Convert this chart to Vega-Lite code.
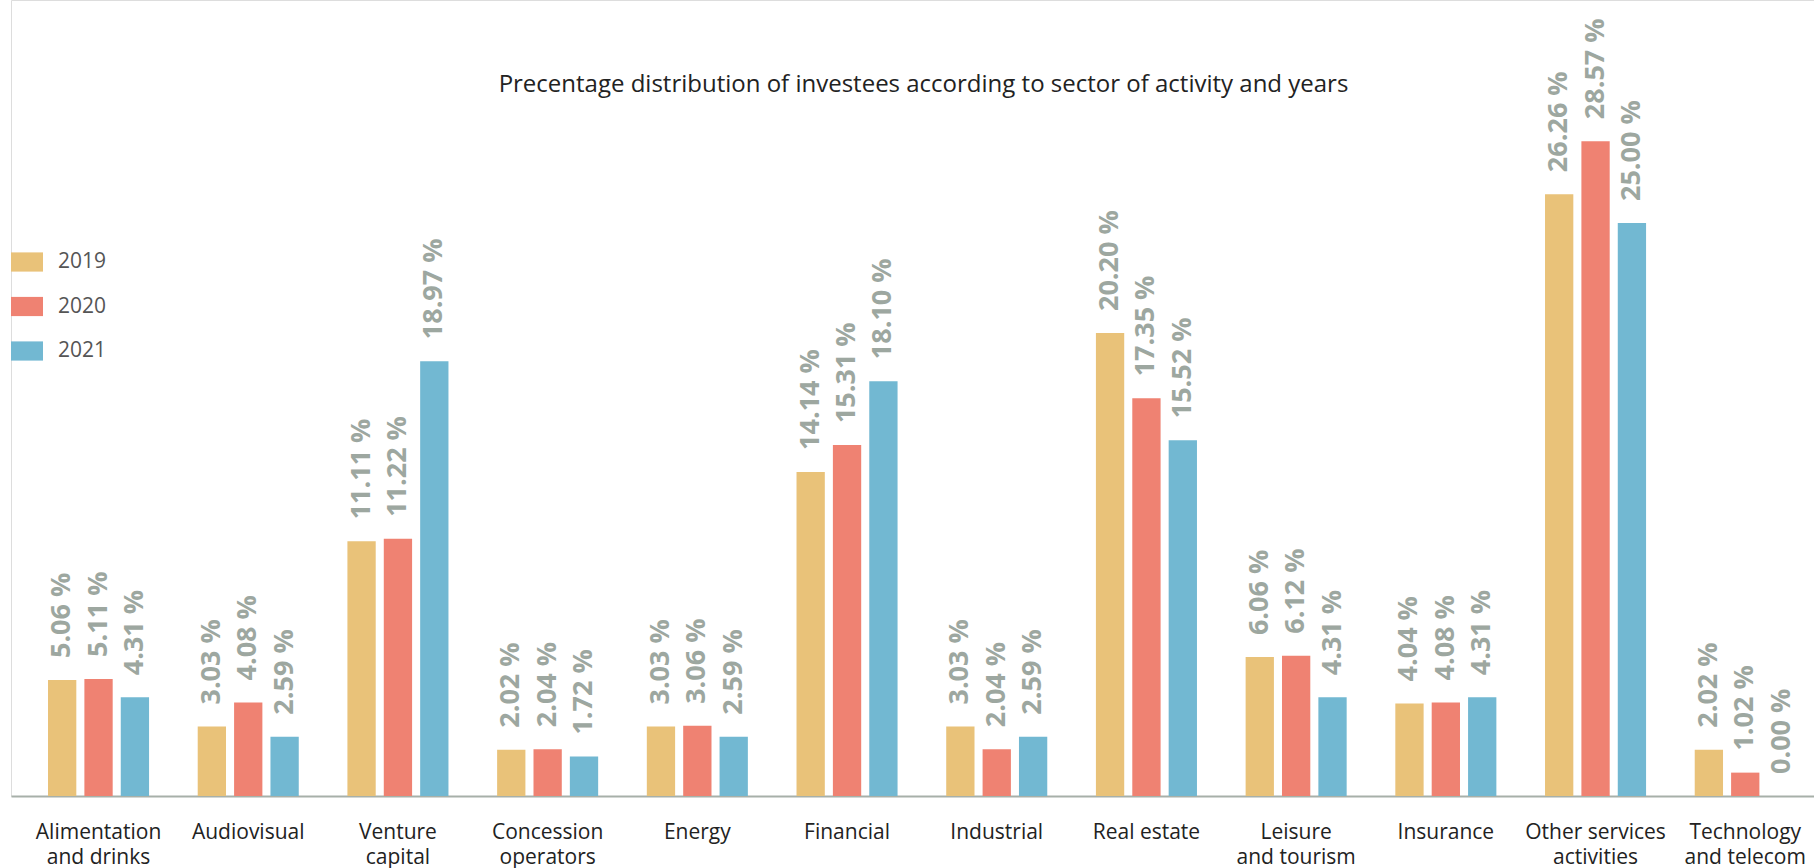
{
  "$schema": "https://vega.github.io/schema/vega-lite/v6.json",
  "width": 1803,
  "height": 796,
  "autosize": {"type": "none"},
  "padding": {"left": 11, "top": 0, "right": 0, "bottom": 72},
  "background": "white",
  "title": {
    "text": "Precentage distribution of investees according to sector of activity and years",
    "font": "Open Sans",
    "fontSize": 24,
    "fontWeight": "normal",
    "color": "#222222",
    "anchor": "middle",
    "frame": "group",
    "offset": -116,
    "dx": 11,
    "baseline": "alphabetic"
  },
  "data": {
    "values": [
      {"sector": "Alimentation|and drinks", "year": "2019", "value": 5.06},
      {"sector": "Alimentation|and drinks", "year": "2020", "value": 5.11},
      {"sector": "Alimentation|and drinks", "year": "2021", "value": 4.31},
      {"sector": "Audiovisual", "year": "2019", "value": 3.03},
      {"sector": "Audiovisual", "year": "2020", "value": 4.08},
      {"sector": "Audiovisual", "year": "2021", "value": 2.59},
      {"sector": "Venture|capital", "year": "2019", "value": 11.11},
      {"sector": "Venture|capital", "year": "2020", "value": 11.22},
      {"sector": "Venture|capital", "year": "2021", "value": 18.97},
      {"sector": "Concession|operators", "year": "2019", "value": 2.02},
      {"sector": "Concession|operators", "year": "2020", "value": 2.04},
      {"sector": "Concession|operators", "year": "2021", "value": 1.72},
      {"sector": "Energy", "year": "2019", "value": 3.03},
      {"sector": "Energy", "year": "2020", "value": 3.06},
      {"sector": "Energy", "year": "2021", "value": 2.59},
      {"sector": "Financial", "year": "2019", "value": 14.14},
      {"sector": "Financial", "year": "2020", "value": 15.31},
      {"sector": "Financial", "year": "2021", "value": 18.10},
      {"sector": "Industrial", "year": "2019", "value": 3.03},
      {"sector": "Industrial", "year": "2020", "value": 2.04},
      {"sector": "Industrial", "year": "2021", "value": 2.59},
      {"sector": "Real estate", "year": "2019", "value": 20.20},
      {"sector": "Real estate", "year": "2020", "value": 17.35},
      {"sector": "Real estate", "year": "2021", "value": 15.52},
      {"sector": "Leisure|and tourism", "year": "2019", "value": 6.06},
      {"sector": "Leisure|and tourism", "year": "2020", "value": 6.12},
      {"sector": "Leisure|and tourism", "year": "2021", "value": 4.31},
      {"sector": "Insurance", "year": "2019", "value": 4.04},
      {"sector": "Insurance", "year": "2020", "value": 4.08},
      {"sector": "Insurance", "year": "2021", "value": 4.31},
      {"sector": "Other services|activities", "year": "2019", "value": 26.26},
      {"sector": "Other services|activities", "year": "2020", "value": 28.57},
      {"sector": "Other services|activities", "year": "2021", "value": 25.00},
      {"sector": "Technology|and telecom", "year": "2019", "value": 2.02},
      {"sector": "Technology|and telecom", "year": "2020", "value": 1.02},
      {"sector": "Technology|and telecom", "year": "2021", "value": 0.00}
    ]
  },
  "transform": [{"calculate": "format(datum.value, '.2f') + ' %'", "as": "label"}],
  "encoding": {
    "x": {
      "field": "sector",
      "type": "nominal",
      "sort": null,
      "scale": {"paddingInner": 0.325, "paddingOuter": 0.1845, "align": 0.67},
      "axis": {
        "title": null,
        "labelAngle": 0,
        "ticks": false,
        "domainColor": "#A7B0A9",
        "domainWidth": 2,
        "labelFont": "Open Sans",
        "labelFontSize": 21,
        "labelColor": "#222222",
        "labelPadding": 25,
        "labelLineHeight": 25,
        "labelBaseline": "top",
        "labelOverlap": false,
        "labelBound": false,
        "labelLimit": 0,
        "labelExpr": "split(datum.label, '|')"
      }
    },
    "xOffset": {
      "field": "year",
      "type": "nominal",
      "scale": {"paddingInner": 0.222, "paddingOuter": 0}
    },
    "y": {
      "field": "value",
      "type": "quantitative",
      "scale": {"domain": [0, 34.73], "nice": false, "zero": true},
      "axis": null
    }
  },
  "layer": [
    {
      "mark": {"type": "bar"},
      "encoding": {
        "color": {
          "field": "year",
          "type": "nominal",
          "scale": {"domain": ["2019", "2020", "2021"], "range": ["#E9C279", "#EF8272", "#72B8D2"]},
          "legend": {
            "orient": "none",
            "legendX": 0,
            "legendY": 246,
            "title": null,
            "symbolType": "M-1,-0.6H1V0.6H-1Z",
            "symbolSize": 1024,
            "symbolStrokeWidth": 0,
            "symbolOpacity": 1,
            "labelFont": "Open Sans",
            "labelFontSize": 21,
            "labelColor": "#555555",
            "labelOffset": 15,
            "rowPadding": 18.5,
            "padding": 0
          }
        }
      }
    },
    {
      "mark": {
        "type": "text",
        "angle": 270,
        "align": "left",
        "baseline": "middle",
        "dx": 22,
        "font": "Open Sans",
        "fontSize": 27,
        "fontWeight": "bold",
        "color": "#9DA7A0"
      },
      "encoding": {"text": {"field": "label"}}
    }
  ]
}
